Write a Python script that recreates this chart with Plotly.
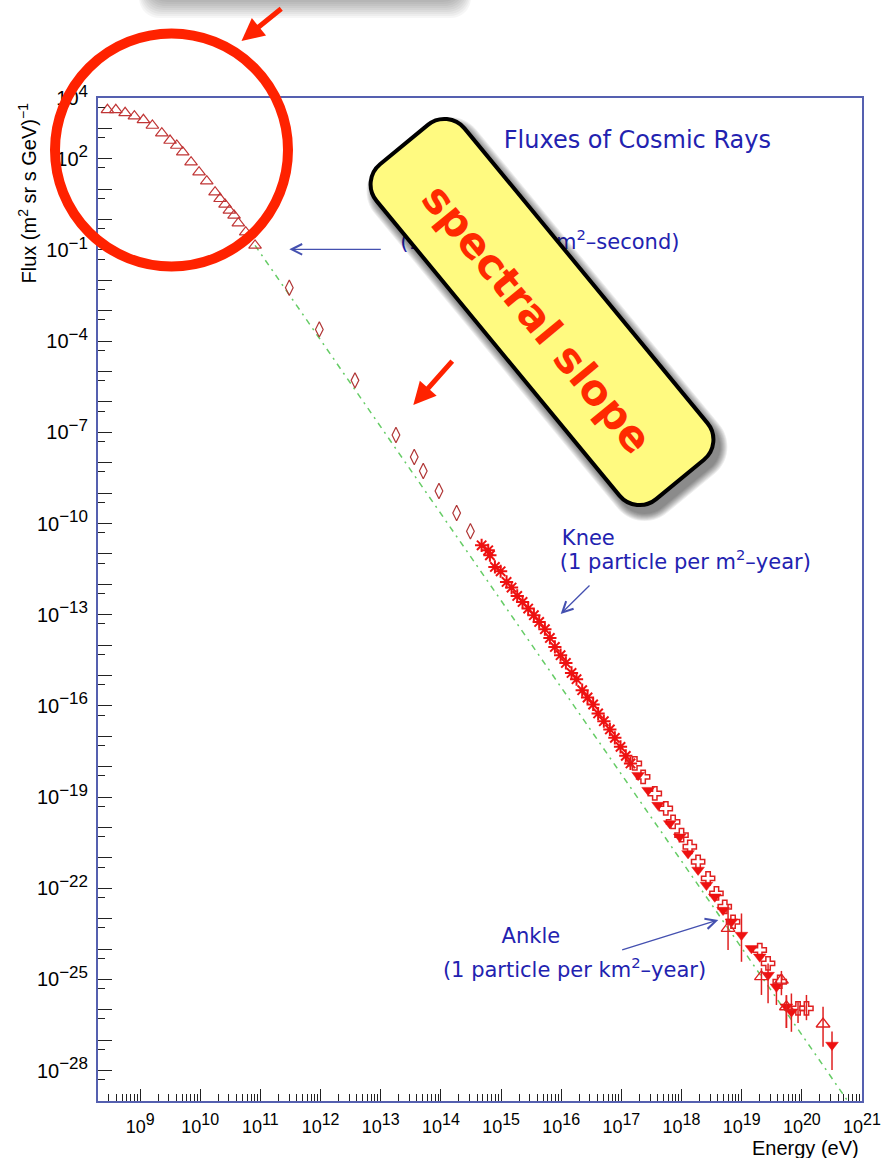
import numpy as np
import plotly.graph_objects as go

# ---------------- figure geometry ----------------
W, H = 888, 1158
ML, MR, MT, MB = 98, 26, 98, 57
PW, PH = W - ML - MR, H - MT - MB


def px(x):
    return (x - ML) / PW


def py(y):
    return 1 - (y - MT) / PH


# ---------------- data (log10 E [eV], log10 flux [(m^2 sr s GeV)^-1]) ----------------
tri_logE = [8.457, 8.596, 8.751, 8.905, 9.055, 9.204, 9.361, 9.498, 9.610, 9.709, 9.847,
            9.980, 10.108, 10.246, 10.329, 10.412, 10.484, 10.562, 10.633, 10.756, 10.911]
tri_logF = [3.612, 3.612, 3.513, 3.401, 3.283, 3.096, 2.842, 2.602, 2.438, 2.218, 1.889,
            1.560, 1.264, 0.902, 0.685, 0.498, 0.301, 0.136, -0.117, -0.413, -0.850]

dia_logE = [11.480, 11.979, 12.572, 13.253, 13.557, 13.707, 13.968, 14.262, 14.491]
dia_logF = [-2.241, -3.613, -5.290, -7.089, -7.812, -8.272, -8.930, -9.653, -10.255]

star_logE = [14.677, 14.787, 14.815, 14.898, 14.993, 15.092, 15.175, 15.269, 15.358, 15.451,
             15.546, 15.634, 15.729, 15.812, 15.895, 15.990, 16.078, 16.172, 16.255, 16.349,
             16.438, 16.531, 16.614, 16.709, 16.809, 16.892, 16.986, 17.074, 17.152]
star_logF = [-10.716, -10.880, -11.044, -11.429, -11.571, -11.922, -12.106, -12.383, -12.580,
             -12.797, -13.017, -13.238, -13.478, -13.764, -14.060, -14.333, -14.586, -14.915,
             -15.122, -15.484, -15.724, -15.954, -16.250, -16.503, -16.776, -17.052, -17.348,
             -17.644, -17.894]

cross_logE = [17.224, 17.362, 17.556, 17.739, 17.860, 18.000, 18.138, 18.276, 18.442, 18.581,
              18.719, 18.857, 19.301, 19.439, 19.633, 19.937, 20.077]
cross_logF = [-17.894, -18.335, -18.881, -19.374, -19.815, -20.252, -20.637, -21.130, -21.676,
              -22.169, -22.610, -23.103, -24.034, -24.471, -25.076, -25.951, -25.951]
cross_err_up = [0, 0, 0, 0, 0, 0, 0, 0, 0, 0, 0, 0, 0, 0, 0, 0.20, 0.44]
cross_err_dn = [0, 0, 0, 0, 0, 0, 0, 0, 0, 0, 0, 0, 0, 0, 0, 0.48, 0.39]

dtri_logE = [17.279, 17.445, 17.611, 17.805, 17.971, 18.109, 18.276, 18.415, 18.553, 18.691,
             18.831, 18.997, 19.163, 19.301, 19.439, 19.578, 19.744, 19.827, 20.502]
dtri_logF = [-18.279, -18.772, -19.265, -19.867, -20.307, -20.853, -21.397, -21.896, -22.281,
             -22.718, -23.103, -23.540, -23.978, -24.254, -24.857, -25.241, -25.899, -26.063,
             -27.157]
dtri_err_up = [0, 0, 0, 0, 0, 0, 0, 0, 0, 0, 0, 0.71, 0, 0, 0.38, 0.22, 0.38, 0.60, 0.44]
dtri_err_dn = [0, 0, 0, 0, 0, 0, 0, 0, 0, 0, 0, 0.88, 0, 0, 0.93, 0.60, 0.70, 0.66, 0.82]

utri_logE = [18.774, 19.329, 19.661, 19.744, 20.353]
utri_logF = [-23.320, -24.911, -25.020, -25.899, -26.466]
utri_err_up = [0.77, 0.28, 0.30, 0.38, 0.57]
utri_err_dn = [0.71, 0.60, 0.50, 0.70, 0.75]

fit_logE = [10.911, 20.763]
fit_logF = [-0.850, -29.0]

x_tick_exp = list(range(9, 22))
y_label_exp = [4, 2, -1, -4, -7, -10, -13, -16, -19, -22, -25, -28]
y_tick_exp = list(range(-29, 5))

# ---------------- text ----------------
BLUE = "#2222b0"
ARROW_BLUE = "#4450b0"
RED = "#ff2200"
TXT_FONT = "DejaVu Sans"

label_texts = ["Fluxes of Cosmic Rays", "(1 particle per m<sup>2</sup>\u2013second)", "Knee",
               "(1 particle per m<sup>2</sup>\u2013year)", "Ankle",
               "(1 particle per km<sup>2</sup>\u2013year)"]
label_logE = [17.266, 15.646, 16.011, 15.978, 15.009, 14.034]
label_logF = [2.550, -0.791, -10.525, -11.314, -23.645, -24.744]
label_pos = ["middle center", "middle center", "middle right", "middle right", "middle right",
             "middle right"]
label_size = [24, 21, 21, 21, 21, 21]


def p10(a):
    return 10.0 ** np.asarray(a, dtype=float)


def err(logF, up, dn):
    F = p10(logF)
    return F * (p10(up) - 1), F * (1 - p10(-np.asarray(dn, dtype=float)))


fig = go.Figure()

# fit line
fig.add_trace(go.Scatter(x=p10(fit_logE), y=p10(fit_logF), mode="lines",
                         line=dict(color="#66cc66", width=1.5, dash="6px,5px,2px,5px"),
                         hoverinfo="skip"))

# text labels (below shapes)
for t, lx, ly, pos, sz in zip(label_texts, label_logE, label_logF, label_pos, label_size):
    fig.add_trace(go.Scatter(x=[10 ** lx], y=[10 ** ly], mode="text", text=[t],
                             textposition=pos,
                             textfont=dict(family=TXT_FONT, size=sz, color=BLUE),
                             hoverinfo="skip", cliponaxis=False))

# low-energy open triangles
fig.add_trace(go.Scatter(x=p10(tri_logE), y=p10(tri_logF), mode="markers",
                         marker=dict(symbol="triangle-up-open", size=11, color="#c03535",
                                     line=dict(width=1.2, color="#c03535"))))
# diamonds
fig.add_trace(go.Scatter(x=p10(dia_logE), y=p10(dia_logF), mode="markers",
                         marker=dict(symbol="diamond-tall-open", size=11, color="#b03535",
                                     line=dict(width=1.2, color="#b03535"))))
# stars
fig.add_trace(go.Scatter(x=p10(star_logE), y=p10(star_logF), mode="markers",
                         marker=dict(symbol="asterisk-open", size=11, color="#ee1111",
                                     line=dict(width=2, color="#ee1111"))))
# open crosses
eu, ed = err(cross_logF, cross_err_up, cross_err_dn)
fig.add_trace(go.Scatter(x=p10(cross_logE), y=p10(cross_logF), mode="markers",
                         error_y=dict(type="data", symmetric=False, array=eu, arrayminus=ed,
                                      color="#e02020", thickness=1.5, width=0),
                         marker=dict(symbol="cross-open", size=11, color="#e02020",
                                     line=dict(width=1.5, color="#e02020"))))
# filled down triangles
eu, ed = err(dtri_logF, dtri_err_up, dtri_err_dn)
fig.add_trace(go.Scatter(x=p10(dtri_logE), y=p10(dtri_logF), mode="markers",
                         error_y=dict(type="data", symmetric=False, array=eu, arrayminus=ed,
                                      color="#e02020", thickness=1.5, width=0),
                         marker=dict(symbol="triangle-down", size=11, color="#ee1111",
                                     line=dict(width=0.5, color="#ee1111"))))
# open up triangles (tail)
eu, ed = err(utri_logF, utri_err_up, utri_err_dn)
fig.add_trace(go.Scatter(x=p10(utri_logE), y=p10(utri_logF), mode="markers",
                         error_y=dict(type="data", symmetric=False, array=eu, arrayminus=ed,
                                      color="#e02020", thickness=1.5, width=0),
                         marker=dict(symbol="triangle-up-open", size=12, color="#e02020",
                                     line=dict(width=1.3, color="#e02020"))))
# empty trace that carries the secondary (tick-only) y axis
fig.add_trace(go.Scatter(x=[], y=[], yaxis="y2", hoverinfo="skip"))

# ---------------- shapes ----------------


def rrect_path(cx, cy, L, Wd, r, th_deg):
    th = np.radians(th_deg)
    c, s = np.cos(th), np.sin(th)
    k = 0.5523 * r

    def T(u, v):
        X = cx + u * c - v * s
        Y = cy + u * s + v * c
        return f"{px(X):.5f},{py(Y):.5f}"

    segs = [
        ("M", [(-L + r, -Wd)]),
        ("L", [(L - r, -Wd)]),
        ("C", [(L - r + k, -Wd), (L, -Wd + r - k), (L, -Wd + r)]),
        ("L", [(L, Wd - r)]),
        ("C", [(L, Wd - r + k), (L - r + k, Wd), (L - r, Wd)]),
        ("L", [(-L + r, Wd)]),
        ("C", [(-L + r - k, Wd), (-L, Wd - r + k), (-L, Wd - r)]),
        ("L", [(-L, -Wd + r)]),
        ("C", [(-L, -Wd + r - k), (-L + r - k, -Wd), (-L + r, -Wd)]),
    ]
    return " ".join(cmd + " " + " ".join(T(u, v) for u, v in p) for cmd, p in segs) + " Z"


shapes = []
# top callout shadow (box cut off at top)
for i in range(9):
    shapes.append(dict(type="path", xref="paper", yref="paper",
                       path=rrect_path(305, -20, 158 + i, 22 + 2 * i, 20, 0),
                       fillcolor="rgba(0,0,0,0.035)", line=dict(width=0), layer="above"))
shapes.append(dict(type="path", xref="paper", yref="paper",
                   path=rrect_path(305, -22, 156, 20, 14, 0),
                   fillcolor="white", line=dict(width=0), layer="above"))

# yellow box shadow
CX, CY, TH = 542, 312, 50.5
for i in range(8):
    shapes.append(dict(type="path", xref="paper", yref="paper",
                       path=rrect_path(CX + 5, CY + 7, 219 + i, 59 + i, 28 + i, TH),
                       fillcolor="rgba(0,0,0,0.07)", line=dict(width=0), layer="above"))
shapes.append(dict(type="path", xref="paper", yref="paper",
                   path=rrect_path(CX, CY, 217, 57, 26, TH),
                   fillcolor="#fffa80", line=dict(color="black", width=4), layer="above"))

# red circle
shapes.append(dict(type="circle", xref="paper", yref="paper",
                   x0=px(171.5 - 116.5), x1=px(171.5 + 116.5),
                   y0=py(150 + 116.5), y1=py(150 - 116.5),
                   line=dict(color=RED, width=10), layer="above"))

# ---------------- annotations ----------------
ann = []
ann.append(dict(xref="paper", yref="paper", x=px(537), y=py(318), text="<b>spectral slope</b>",
                showarrow=False, textangle=50.5, xanchor="center", yanchor="middle",
                font=dict(family="DejaVu Sans", size=42, color="#ff2a00")))
# red arrows
for (tx, ty, ax, ay) in [(241.5, 41.0, 40.2, -32.7), (413.3, 405.0, 39.4, -44.3)]:
    ann.append(dict(xref="paper", yref="paper", x=px(tx), y=py(ty), text="", showarrow=True,
                    ax=ax, ay=ay, arrowhead=2, arrowsize=0.9, arrowwidth=5, arrowcolor=RED,
                    borderpad=0))
# blue arrows
for (tx, ty, ax, ay) in [(289.3, 249.3, 92, 0), (560.7, 614, 29.3, -29), (718.3, 920, -96.6, 30)]:
    ann.append(dict(xref="paper", yref="paper", x=px(tx), y=py(ty), text="", showarrow=True,
                    ax=ax, ay=ay, arrowhead=5, arrowsize=1.6, arrowwidth=1.3,
                    arrowcolor=ARROW_BLUE, borderpad=0))
# axis titles
ann.append(dict(xref="paper", yref="paper", x=px(27), y=py(193.5),
                text="Flux (m<sup>2</sup> sr s GeV)<sup>\u22121</sup>", showarrow=False,
                textangle=-90, xanchor="center", yanchor="middle",
                font=dict(family="Liberation Sans", size=20, color="black")))
ann.append(dict(xref="paper", yref="paper", x=px(861), y=py(1148), text="Energy (eV)",
                showarrow=False, xanchor="right", yanchor="middle",
                font=dict(family="Liberation Sans", size=20, color="black")))

# ---------------- axes ----------------


def sup_label(k, size):
    return (f"10<sup><span style=\"font-size:{size}px\">"
            f"{str(k).replace('-', chr(0x2212))}</span></sup>")


x_major = [10.0 ** k for k in x_tick_exp]
x_text = [sup_label(k, 16) for k in x_tick_exp]
x_minor = [m * 10.0 ** k for k in range(8, 21) for m in range(2, 10)
           if 8.3 < np.log10(m * 10.0 ** k) < 21]

y_major = [10.0 ** k for k in y_label_exp]
y_text = [sup_label(k, 17) for k in y_label_exp]
y_other = [10.0 ** k for k in y_tick_exp if k not in y_label_exp]
y_minor = [5 * 10.0 ** k for k in range(-29, 4)]

FRAME = "#5560b0"
fig.update_layout(
    width=W, height=H, margin=dict(l=ML, r=MR, t=MT, b=MB, autoexpand=False),
    paper_bgcolor="white", plot_bgcolor="white", showlegend=False,
    shapes=shapes, annotations=ann,
    xaxis=dict(type="log", range=[8.3, 21.0005], showgrid=False, zeroline=False,
               showline=True, linecolor=FRAME, linewidth=2, mirror=True,
               ticks="inside", ticklen=12, tickwidth=1, tickcolor="#222",
               tickmode="array", tickvals=x_major, ticktext=x_text,
               tickfont=dict(family="Liberation Sans", size=18, color="black"),
               ticklabelstandoff=8,
               minor=dict(tickmode="array", tickvals=x_minor, ticks="inside", ticklen=7,
                          tickwidth=1, tickcolor="#222", showgrid=False)),
    yaxis=dict(type="log", range=[-29, 4.0005], showgrid=False, zeroline=False,
               showline=True, linecolor=FRAME, linewidth=2, mirror=True,
               ticks="inside", ticklen=14, tickwidth=1, tickcolor="#222",
               tickmode="array", tickvals=y_major, ticktext=y_text,
               tickfont=dict(family="Liberation Sans", size=20, color="black"),
               ticklabelstandoff=4,
               minor=dict(tickmode="array", tickvals=y_minor, ticks="inside", ticklen=7,
                          tickwidth=1, tickcolor="#222", showgrid=False)),
    yaxis2=dict(type="log", range=[-29, 4.0005], overlaying="y", anchor="x", side="left",
                showgrid=False, zeroline=False, showline=False,
                ticks="inside", ticklen=14, tickwidth=1, tickcolor="#222",
                tickmode="array", tickvals=y_other, showticklabels=False),
)

fig.write_html("out.html", config={"displayModeBar": False},
               post_script="document.body.style.margin='0';"
                           "document.documentElement.style.overflow='hidden';")
